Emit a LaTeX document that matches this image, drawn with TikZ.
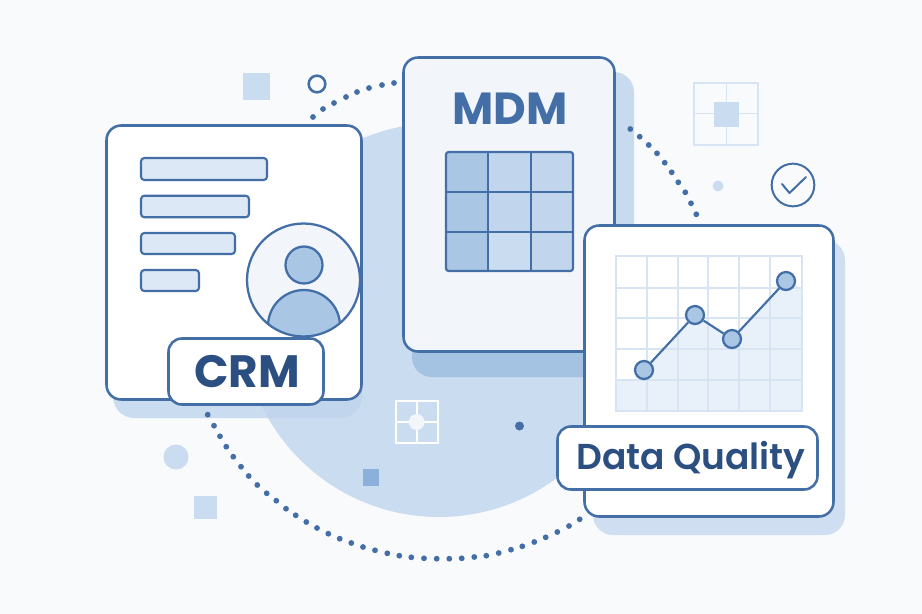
\documentclass[tikz,border=0pt]{standalone}
\usepackage{fontspec}
\setmainfont{Poppins}
\newfontfamily\semifont{Poppins SemiBold}
\definecolor{bgc}{HTML}{F8FAFC}
\definecolor{lineblue}{HTML}{436EA6}
\definecolor{ink}{HTML}{2C4F82}
\definecolor{pale}{HTML}{CADCEF}
\definecolor{gridc}{HTML}{D6E4F3}
\definecolor{mid}{HTML}{A9C6E4}
\definecolor{barfill}{HTML}{DCE8F5}
\definecolor{cardc}{HTML}{F2F6FB}
\definecolor{areac}{HTML}{E8F0F9}
\definecolor{sqc}{HTML}{8DB0DA}
\tikzset{
  cardbox/.style 2 args={draw=lineblue,line width=1.9pt,rounded corners=11pt,fill=white,inner sep=0pt,outer sep=0pt,
     minimum width=(#1-1)*0.75pt,minimum height=(#2-1)*0.75pt},
  labelbox/.style 2 args={cardbox={#1}{#2},rounded corners=10pt},
  barbox/.style 2 args={cardbox={#1-1}{#2-1},line width=1.6pt,rounded corners=2.5pt,fill=barfill},
  caption/.style={font=\bfseries,text=ink,inner sep=0pt},
  decor/.style={fill=pale,draw=none},
  ring/.style={draw=lineblue,line width=1.9pt},
  ptn/.style={circle,draw=lineblue,line width=1.7pt,fill=mid,minimum size=13.5pt,inner sep=0pt},
}
\begin{document}
\begin{tikzpicture}[x=0.75pt,y=-0.75pt]
\useasboundingbox (0,0) rectangle (922,614);
\fill[bgc] (0,0) rectangle (922,614);
% CRM shadow
\fill[fill=pale,rounded corners=16pt] (113,135) rectangle (362,418);
% big disc
\fill[pale] (439,320) circle (197);
\begin{scope}
\clip (439,320) circle (197);
\fill[mid,opacity=.25,rounded corners=16pt] (113,135) rectangle (362,418);
\end{scope}
% MDM shadow
\fill[fill=pale!95!mid,rounded corners=15pt] (412,72) rectangle (634,377);
\begin{scope}
\clip (380,352) rectangle (640,380);
\fill[fill=mid!95!lineblue,rounded corners=15pt] (412,72) rectangle (634,377);
\end{scope}
% DQ shadow
\fill[fill=pale!90!white,rounded corners=15pt] (593,240) rectangle (845,535);
% decor
\fill[decor] (243,73) rectangle (270,100);
\node[circle,ring,minimum size=12.5pt,inner sep=0pt] (ringa) at (317,84) {};
\draw[gridc,line width=1.2pt] (694,83) rectangle (758,145) (726.5,83) -- (726.5,145) (694,113.5) -- (758,113.5);
\fill[decor] (714,102) rectangle (739,127);
\fill[decor] (718,186) circle (5.5);
\node[circle,draw=lineblue,line width=1.5pt,minimum size=32pt,inner sep=0pt] (checkring) at (793,185) {};
\draw[lineblue,line width=1.5pt,line cap=round,line join=round] (782,184) -- (789.5,193) -- (806,177);
\draw[white,line width=1.5pt] (396,401) rectangle (437.5,443) (416.7,401) -- (416.7,443) (396,422) -- (437.5,422);
\fill[cardc] (416.7,422) circle (8);
\fill[sqc] (363,469) rectangle (379,486);
\fill[lineblue] (519.5,426) circle (4.5);
\fill[decor] (176,457) circle (12.5);
\fill[decor] (194,496) rectangle (217,519);
% dots
\foreach \px/\py in {313/117,323/109,334/103,346/97,357/92,369/88,382/85,394/83,
  630.3/129,639.7/136.7,648.7/145,657/153.3,664.7/162.7,671.7/172.3,678.3/182.3,685.3/192.3,691/203.3,696.3/214.3,
  207.7/414.7,214/425.7,220/436.3,226.3/446.7,233.3/456.7,241/466.7,248.7/476,257.3/485,266.7/493.3,276.3/500.7,286/508.7,295.7/515.3,306.3/522,317/528,328.3/533.7,339.7/538.7,351.3/543,363/547,375/550.3,387.3/553.3,
  399.3/555.7,411.3/557.3,424/558.3,436.7/558.7,449.3/558.7,461.7/558.3,474.3/557,486.3/555.7,498.7/553,511/549.7,522.3/546.3,534.3/542,545.7/537.3,557.3/532,569/526,579.7/519.3}
  \fill[lineblue] (\px,\py) circle (2.9);
% MDM card
\node[cardbox={212}{295},fill=cardc] (mdm) at (509,204.5) {};
\node[caption,text=lineblue,font=\bfseries\fontsize{33.7}{33.7}\selectfont] (mdmt) at (510,108.5) {MDM};
\fill[mid] (446,152) rectangle (488,271);
\fill[mid!72!white] (488,152) rectangle (573,271);
\fill[pale] (488,232) rectangle (531,271);
\draw[lineblue,line width=1.7pt,rounded corners=2pt] (446,152) rectangle (573,271);
\draw[lineblue,line width=1.7pt] (488,152) -- (488,271) (531,152) -- (531,271) (446,192) -- (573,192) (446,232) -- (573,232);
% CRM card
\node[cardbox={256}{275}] (crm) at (234,262.5) {};
\node[barbox={128}{24}] (bara) at (204,169) {};
\node[barbox={110}{23.5}] (barb) at (195,206.5) {};
\node[barbox={96}{23}] (barc) at (188,243.5) {};
\node[barbox={60}{23}] (bard) at (170,280.5) {};
\fill[cardc] (303.5,280) circle (56.5);
\begin{scope}
\clip (303.5,280) circle (56.5);
\draw[lineblue,line width=1.7pt,fill=mid] (304,326) circle (36);
\end{scope}
\draw[lineblue,line width=1.7pt,fill=mid] (304,265) circle (18.5);
\draw[lineblue,line width=1.7pt] (303.5,280) circle (56.5);
\node[labelbox={156}{67}] (crml) at (246,371.5) {};
\node[caption,font=\bfseries\fontsize{34}{34}\selectfont] (crmt) at (247,372) {CRM};
% DQ card
\node[cardbox={250}{292}] (dq) at (709,371) {};
\fill[areac] (616,380) -- (636,380) -- (644,370) -- (695,315) -- (732,339) -- (786,281) -- (802,288) -- (802,411) -- (616,411) -- cycle;
\draw[gridc,line width=1.5pt] (615.7,256) rectangle (801.7,411)
  (647,256) -- (647,411) (678,256) -- (678,411) (708,256) -- (708,411) (739,256) -- (739,411) (770,256) -- (770,411)
  (615.7,287.7) -- (801.7,287.7) (615.7,318.3) -- (801.7,318.3) (615.7,349.3) -- (801.7,349.3) (615.7,380) -- (801.7,380);
\node[ptn] (pa) at (644,370) {};
\node[ptn] (pb) at (695,315) {};
\node[ptn] (pc) at (732,339) {};
\node[ptn] (pd) at (786,281) {};
\draw[lineblue,line width=1.6pt] (pa) -- (pb) -- (pc) -- (pd);
\node[labelbox={261}{64}] (dql) at (687.5,458) {};
\node[caption,font=\semifont\fontsize{27}{27}\selectfont] (dqt) at (691,460) {Data Quality};
\end{tikzpicture}
\end{document}
